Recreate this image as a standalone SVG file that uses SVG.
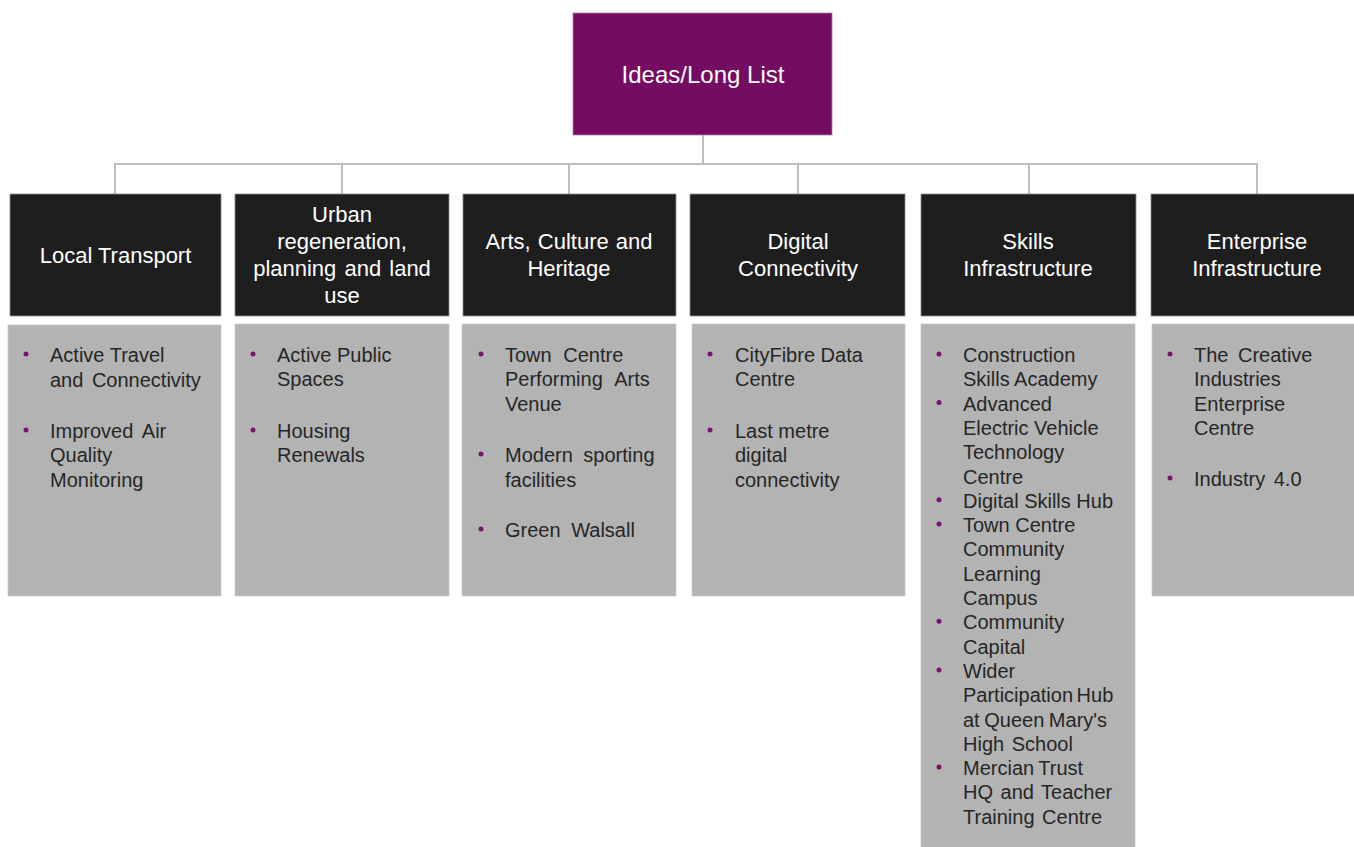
<svg xmlns="http://www.w3.org/2000/svg" width="1354" height="847" viewBox="0 0 1354 847">
  <style>
    .root { fill: #740C62; stroke: #B77AAC; stroke-width: 0.8; }
    .head { fill: #1E1E1E; stroke: #8C8C8C; stroke-width: 0.8; }
    .body { fill: #B3B3B3; stroke: #C9C9C9; stroke-width: 0.8; }
    .root-label { font-family: "Liberation Sans", Arial, sans-serif; font-size: 24px; fill: #FFFFFF; text-anchor: middle; }
    .head-label { font-family: "Liberation Sans", Arial, sans-serif; font-size: 22px; fill: #FFFFFF; text-anchor: middle; }
    .item { font-family: "Liberation Sans", Arial, sans-serif; font-size: 20px; fill: #262626; }
    .dot { fill: #7A1270; }
    .link { fill: none; stroke: #BFBFBF; stroke-width: 2; }
  </style>

  <rect width="1354" height="847" fill="#FFFFFF"/>

  <!-- connectors -->
  <g id="connectors">
    <path class="link" d="M703 135 V164"/>
    <path class="link" d="M115 194 V164 H1257 V194"/>
    <path class="link" d="M342 164 V194"/>
    <path class="link" d="M569 164 V194"/>
    <path class="link" d="M798 164 V194"/>
    <path class="link" d="M1029 164 V194"/>
  </g>

  <!-- root -->
  <g id="ideas-long-list">
    <rect class="root" x="573" y="13" width="259" height="122"/>
    <text class="root-label" x="703" y="83">Ideas/Long List</text>
  </g>

  <!-- Local Transport -->
  <g id="local-transport">
    <rect class="head" x="10" y="194" width="211" height="122"/>
    <text class="head-label" x="115.5" y="263">Local Transport</text>
    <rect class="body" x="8" y="325" width="213" height="271"/>
    <circle class="dot" cx="26" cy="354" r="2.5"/>
    <text class="item" x="50" y="362">Active Travel</text>
    <text class="item" x="50" y="387" word-spacing="3">and Connectivity</text>
    <circle class="dot" cx="26" cy="430" r="2.5"/>
    <text class="item" x="50" y="438" word-spacing="4">Improved Air</text>
    <text class="item" x="50" y="462">Quality</text>
    <text class="item" x="50" y="487">Monitoring</text>
  </g>

  <!-- Urban regeneration -->
  <g id="urban-regeneration">
    <rect class="head" x="235" y="194" width="214" height="122"/>
    <text class="head-label" x="342" y="222">Urban</text>
    <text class="head-label" x="342" y="249">regeneration,</text>
    <text class="head-label" x="342" y="276" word-spacing="2">planning and land</text>
    <text class="head-label" x="342" y="303">use</text>
    <rect class="body" x="235" y="324" width="214" height="272"/>
    <circle class="dot" cx="253" cy="354" r="2.5"/>
    <text class="item" x="277" y="362">Active Public</text>
    <text class="item" x="277" y="386">Spaces</text>
    <circle class="dot" cx="253" cy="430" r="2.5"/>
    <text class="item" x="277" y="438">Housing</text>
    <text class="item" x="277" y="462">Renewals</text>
  </g>

  <!-- Arts, Culture and Heritage -->
  <g id="arts-culture-heritage">
    <rect class="head" x="463" y="194" width="213" height="122"/>
    <text class="head-label" x="569" y="249" word-spacing="1">Arts, Culture and</text>
    <text class="head-label" x="569" y="276">Heritage</text>
    <rect class="body" x="462" y="324" width="214" height="272"/>
    <circle class="dot" cx="481" cy="354" r="2.5"/>
    <text class="item" x="505" y="362" word-spacing="6">Town Centre</text>
    <text class="item" x="505" y="386" word-spacing="7">Performing Arts</text>
    <text class="item" x="505" y="411">Venue</text>
    <circle class="dot" cx="481" cy="454" r="2.5"/>
    <text class="item" x="505" y="462" word-spacing="5">Modern sporting</text>
    <text class="item" x="505" y="487">facilities</text>
    <circle class="dot" cx="481" cy="529" r="2.5"/>
    <text class="item" x="505" y="537" word-spacing="5">Green Walsall</text>
  </g>

  <!-- Digital Connectivity -->
  <g id="digital-connectivity">
    <rect class="head" x="690" y="194" width="215" height="122"/>
    <text class="head-label" x="798" y="249">Digital</text>
    <text class="head-label" x="798" y="276">Connectivity</text>
    <rect class="body" x="692" y="324" width="213" height="272"/>
    <circle class="dot" cx="710" cy="354" r="2.5"/>
    <text class="item" x="735" y="362">CityFibre Data</text>
    <text class="item" x="735" y="386">Centre</text>
    <circle class="dot" cx="710" cy="430" r="2.5"/>
    <text class="item" x="735" y="438">Last metre</text>
    <text class="item" x="735" y="462">digital</text>
    <text class="item" x="735" y="487">connectivity</text>
  </g>

  <!-- Skills Infrastructure -->
  <g id="skills-infrastructure">
    <rect class="head" x="921" y="194" width="215" height="122"/>
    <text class="head-label" x="1028" y="249">Skills</text>
    <text class="head-label" x="1028" y="276">Infrastructure</text>
    <rect class="body" x="921" y="324" width="214" height="530"/>
    <circle class="dot" cx="939" cy="354" r="2.5"/>
    <text class="item" x="963" y="362">Construction</text>
    <text class="item" x="963" y="386.3">Skills Academy</text>
    <circle class="dot" cx="939" cy="402.6" r="2.5"/>
    <text class="item" x="963" y="410.6">Advanced</text>
    <text class="item" x="963" y="434.9">Electric Vehicle</text>
    <text class="item" x="963" y="459.2">Technology</text>
    <text class="item" x="963" y="483.5">Centre</text>
    <circle class="dot" cx="939" cy="499.8" r="2.5"/>
    <text class="item" x="963" y="507.8">Digital Skills Hub</text>
    <circle class="dot" cx="939" cy="524.1" r="2.5"/>
    <text class="item" x="963" y="532.1">Town Centre</text>
    <text class="item" x="963" y="556.4">Community</text>
    <text class="item" x="963" y="580.7">Learning</text>
    <text class="item" x="963" y="605">Campus</text>
    <circle class="dot" cx="939" cy="621.3" r="2.5"/>
    <text class="item" x="963" y="629.3">Community</text>
    <text class="item" x="963" y="653.6">Capital</text>
    <circle class="dot" cx="939" cy="669.9" r="2.5"/>
    <text class="item" x="963" y="677.9">Wider</text>
    <text class="item" x="963" y="702.2" word-spacing="-2">Participation Hub</text>
    <text class="item" x="963" y="726.5" word-spacing="-1">at Queen Mary's</text>
    <text class="item" x="963" y="750.8" word-spacing="2">High School</text>
    <circle class="dot" cx="939" cy="767.1" r="2.5"/>
    <text class="item" x="963" y="775.1" word-spacing="-1">Mercian Trust</text>
    <text class="item" x="963" y="799.4" word-spacing="2">HQ and Teacher</text>
    <text class="item" x="963" y="823.7" word-spacing="2">Training Centre</text>
  </g>

  <!-- Enterprise Infrastructure -->
  <g id="enterprise-infrastructure">
    <rect class="head" x="1151" y="194" width="212" height="122"/>
    <text class="head-label" x="1257" y="249">Enterprise</text>
    <text class="head-label" x="1257" y="276">Infrastructure</text>
    <rect class="body" x="1152" y="324" width="212" height="272"/>
    <circle class="dot" cx="1170" cy="354" r="2.5"/>
    <text class="item" x="1194" y="362" word-spacing="4">The Creative</text>
    <text class="item" x="1194" y="386.3">Industries</text>
    <text class="item" x="1194" y="410.6">Enterprise</text>
    <text class="item" x="1194" y="434.9">Centre</text>
    <circle class="dot" cx="1170" cy="478" r="2.5"/>
    <text class="item" x="1194" y="486" word-spacing="3">Industry 4.0</text>
  </g>
</svg>
